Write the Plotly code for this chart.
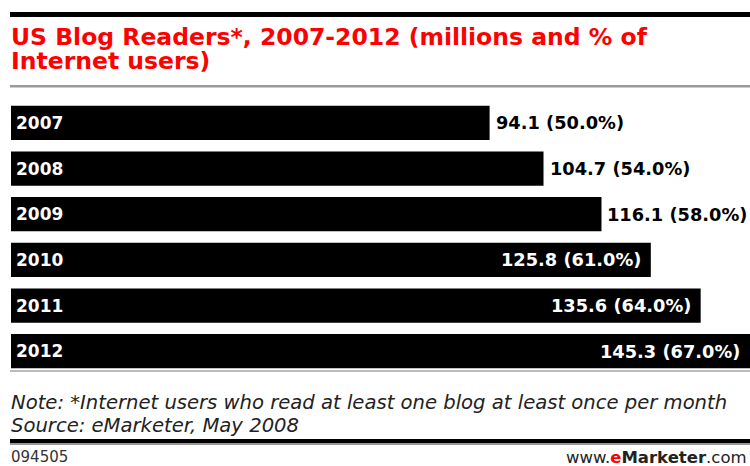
import plotly.graph_objects as go

years = ["2007", "2008", "2009", "2010", "2011", "2012"]
readers_millions = [94.1, 104.7, 116.1, 125.8, 135.6, 145.3]
pct_internet_users = [50.0, 54.0, 58.0, 61.0, 64.0, 67.0]

title_line1 = "US Blog Readers*, 2007-2012 (millions and % of"
title_line2 = "Internet users)"
note_line = "Note: *Internet users who read at least one blog at least once per month"
source_line = "Source: eMarketer, May 2008"
chart_id = "094505"

W, H = 750, 466
ML, MR, MT, MB = 11, 0, 100, 92
PW, PH = W - ML - MR, H - MT - MB


def px(x):
    return (x - ML) / PW


def py(y):
    return (H - MB - y) / PH


BOLD = "DejaVu Sans, Verdana, sans-serif"
ITAL = "DejaVu Sans, Verdana, sans-serif"

ypos = list(range(len(years)))

fig = go.Figure()
fig.add_trace(go.Bar(
    x=readers_millions, y=ypos, orientation="h", width=0.75,
    marker=dict(color="#000000", line=dict(width=0)),
    hoverinfo="skip",
))

annotations = []
for i, (yr, v, p) in enumerate(zip(years, readers_millions, pct_internet_users)):
    annotations.append(dict(
        x=0, y=i, xref="x", yref="y", text="<b>%s</b>" % yr,
        xanchor="left", yanchor="middle", xshift=3, showarrow=False,
        font=dict(family=BOLD, size=17, color="#ffffff"),
    ))
    label = "<b>%.1f (%.1f%%)</b>" % (v, p)
    inside = v > 120
    annotations.append(dict(
        x=v, y=i, xref="x", yref="y", text=label,
        xanchor="right" if inside else "left", yanchor="middle",
        xshift=-8 if inside else 4, showarrow=False,
        font=dict(family=BOLD, size=17.8, color="#ffffff" if inside else "#000000"),
    ))

annotations += [
    dict(x=px(9), y=py(37), xref="paper", yref="paper", text="<b>%s</b>" % title_line1,
         xanchor="left", yanchor="middle", showarrow=False,
         font=dict(family=BOLD, size=23.5, color="#ff0000")),
    dict(x=px(9), y=py(61), xref="paper", yref="paper", text="<b>%s</b>" % title_line2,
         xanchor="left", yanchor="middle", showarrow=False,
         font=dict(family=BOLD, size=23.5, color="#ff0000")),
    dict(x=px(9), y=py(402), xref="paper", yref="paper", text="<i>%s</i>" % note_line,
         xanchor="left", yanchor="middle", showarrow=False,
         font=dict(family=ITAL, size=19.6, color="#222222")),
    dict(x=px(9), y=py(425), xref="paper", yref="paper", text="<i>%s</i>" % source_line,
         xanchor="left", yanchor="middle", showarrow=False,
         font=dict(family=ITAL, size=19.6, color="#222222")),
    dict(x=px(9), y=py(457), xref="paper", yref="paper", text=chart_id,
         xanchor="left", yanchor="middle", showarrow=False,
         font=dict(family=ITAL, size=15, color="#333333")),
    dict(x=px(749), y=py(457), xref="paper", yref="paper",
         text="www.<b><span style='color:#ff0000'>e</span>Marketer</b>.com",
         xanchor="right", yanchor="middle", showarrow=False,
         font=dict(family=ITAL, size=16.5, color="#222222")),
]

shapes = [
    dict(type="rect", xref="paper", yref="paper", x0=px(10), x1=px(750), y0=py(17), y1=py(12),
         fillcolor="#000000", line=dict(width=0)),
    dict(type="rect", xref="paper", yref="paper", x0=px(10), x1=px(750), y0=py(87.5), y1=py(85),
         fillcolor="#9a9a9a", line=dict(width=0)),
    dict(type="rect", xref="paper", yref="paper", x0=px(10), x1=px(750), y0=py(372), y1=py(370),
         fillcolor="#bbbbbb", line=dict(width=0)),
    dict(type="rect", xref="paper", yref="paper", x0=px(10), x1=px(750), y0=py(443), y1=py(439),
         fillcolor="#000000", line=dict(width=0)),
    dict(type="rect", xref="paper", yref="paper", x0=px(10), x1=px(750), y0=py(445), y1=py(443),
         fillcolor="#999999", line=dict(width=0)),
]

fig.update_layout(
    width=W, height=H,
    margin=dict(l=ML, r=MR, t=MT, b=MB, pad=0),
    paper_bgcolor="#ffffff", plot_bgcolor="#ffffff",
    showlegend=False,
    xaxis=dict(range=[0, 145.3], visible=False, fixedrange=True),
    yaxis=dict(range=[len(years) - 0.5, -0.5], visible=False, fixedrange=True,
               tickvals=ypos, ticktext=years),
    annotations=annotations, shapes=shapes,
)

fig.write_html("out.html", config={"displayModeBar": False})
